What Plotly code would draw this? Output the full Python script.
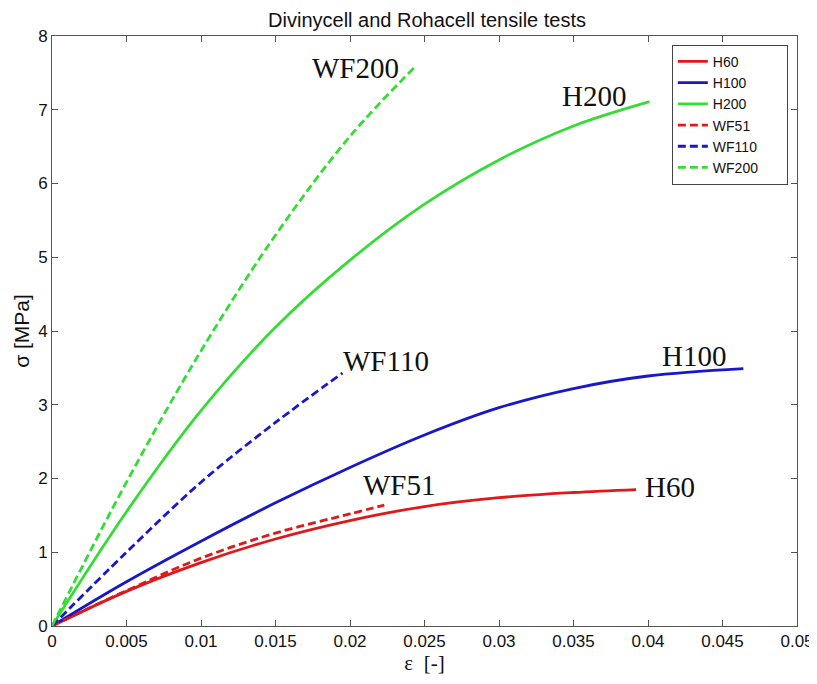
import plotly.graph_objects as go

# strain values (x) and stress values (y, MPa)
h60_x = [0, 0.005, 0.01, 0.015, 0.02, 0.025, 0.03, 0.035, 0.0392]
h60_y = [0, 0.47, 0.86, 1.18, 1.43, 1.62, 1.74, 1.81, 1.85]

h100_x = [0, 0.005, 0.01, 0.015, 0.02, 0.025, 0.03, 0.035, 0.04, 0.0464]
h100_y = [0, 0.60, 1.15, 1.67, 2.15, 2.59, 2.96, 3.22, 3.39, 3.49]

h200_x = [0, 0.005, 0.01, 0.015, 0.02, 0.025, 0.03, 0.035, 0.0401]
h200_y = [0, 1.55, 2.92, 4.05, 4.96, 5.72, 6.32, 6.78, 7.11]

wf51_x = [0, 0.005, 0.01, 0.015, 0.02, 0.0223]
wf51_y = [0, 0.48, 0.92, 1.26, 1.52, 1.64]

wf110_x = [0, 0.005, 0.01, 0.015, 0.0195]
wf110_y = [0, 1.0, 1.95, 2.76, 3.43]

wf200_x = [0, 0.005, 0.01, 0.015, 0.02, 0.0244]
wf200_y = [0, 1.95, 3.73, 5.30, 6.64, 7.59]

x_ticks = [0, 0.005, 0.01, 0.015, 0.02, 0.025, 0.03, 0.035, 0.04, 0.045, 0.05]
x_tick_labels = ["0", "0.005", "0.01", "0.015", "0.02", "0.025", "0.03", "0.035", "0.04", "0.045", "0.05"]
y_ticks = [0, 1, 2, 3, 4, 5, 6, 7, 8]

# curve-end labels
label_text = ["WF200", "H200", "WF110", "H100", "WF51", "H60"]
label_x = [0.0204, 0.0364, 0.0224, 0.0431, 0.0233, 0.0415]
label_y = [7.57, 7.19, 3.6, 3.66, 1.91, 1.89]

RED = "#e01818"
BLUE = "#1818c8"
GREEN = "#36dc36"

series = [
    ("H60", h60_x, h60_y, RED, "solid"),
    ("H100", h100_x, h100_y, BLUE, "solid"),
    ("H200", h200_x, h200_y, GREEN, "solid"),
    ("WF51", wf51_x, wf51_y, RED, "8px,4px"),
    ("WF110", wf110_x, wf110_y, BLUE, "8px,4px"),
    ("WF200", wf200_x, wf200_y, GREEN, "8px,4px"),
]

fig = go.Figure()
for name, xs, ys, col, dash in series:
    fig.add_trace(go.Scatter(
        x=xs, y=ys, name=name + "&nbsp;" * 6, mode="lines",
        line=dict(color=col, width=2.8, dash=dash, shape="spline", smoothing=1.0),
    ))

for t, x, y in zip(label_text, label_x, label_y):
    fig.add_annotation(x=x, y=y, text=t, showarrow=False,
                       font=dict(family="Liberation Serif", size=29, color="#111"))

axis_common = dict(
    showgrid=False, zeroline=False, showline=True, linecolor="#555", linewidth=1,
    mirror="ticks", ticks="inside", ticklen=6, tickcolor="#555",
    tickfont=dict(family="Liberation Sans", size=17, color="#111"),
    automargin=False,
)

fig.update_xaxes(range=[0, 0.05], tickvals=x_ticks, ticktext=x_tick_labels,
                 title=dict(text="ε  [-]", font=dict(family="Liberation Serif", size=21, color="#111"), standoff=4),
                 **axis_common)
fig.update_yaxes(range=[0, 8], tickvals=y_ticks,
                 title=dict(text="σ [MPa]", font=dict(family="Liberation Sans", size=21, color="#111"), standoff=2),
                 **axis_common)

# the page body adds an 8px offset, so the figure is 8px smaller than the window
fig.update_layout(
    width=809, height=676,
    margin=dict(l=44, r=20, t=28, b=58),
    paper_bgcolor="white", plot_bgcolor="white",
    title=dict(text="Divinycell and Rohacell tensile tests", x=0.518, xanchor="center", y=0.993, yanchor="top",
               font=dict(family="Liberation Sans", size=20, color="#111")),
    legend=dict(x=0.832, y=0.985, xanchor="left", yanchor="top",
                bordercolor="#444", borderwidth=1, bgcolor="white",
                font=dict(family="Liberation Sans", size=14, color="#111"),
                tracegroupgap=0, itemwidth=30),
    showlegend=True,
)

fig.write_html("out.html")
